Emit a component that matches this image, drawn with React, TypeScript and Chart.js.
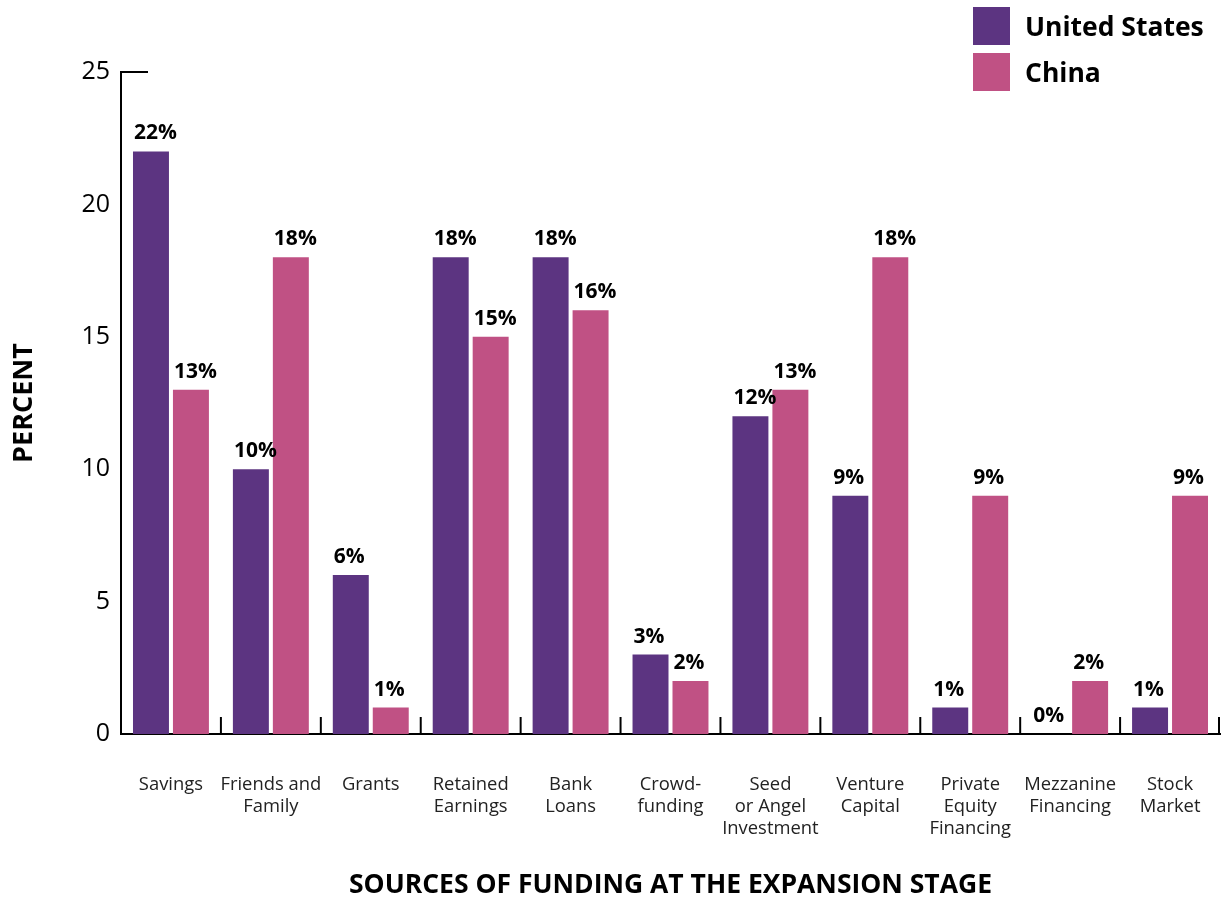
import React, { useEffect, useRef } from "react";
import { Chart, registerables } from "chart.js";

Chart.register(...registerables);

const categories: string[][] = [
  ["Savings"],
  ["Friends and", "Family"],
  ["Grants"],
  ["Retained", "Earnings"],
  ["Bank", "Loans"],
  ["Crowd-", "funding"],
  ["Seed", "or Angel", "Investment"],
  ["Venture", "Capital"],
  ["Private", "Equity", "Financing"],
  ["Mezzanine", "Financing"],
  ["Stock", "Market"],
];
const usValues = [22, 10, 6, 18, 18, 3, 12, 9, 1, 0, 1];
const chinaValues = [13, 18, 1, 15, 16, 2, 13, 18, 9, 2, 9];
const seriesNames = ["United States", "China"];
const seriesColors = ["#5C3481", "#C05184"];
const yTicks = [0, 5, 10, 15, 20, 25];

const FONT = "'Open Sans', 'DejaVu Sans', sans-serif";

const decorPlugin = {
  id: "decor",
  afterDatasetsDraw(chart: any) {
    const ctx = chart.ctx;
    const x = chart.scales.x;
    const y = chart.scales.y;
    const area = chart.chartArea;
    ctx.save();
    ctx.strokeStyle = "#000";
    ctx.lineWidth = 2;
    // category boundary ticks
    const n = categories.length;
    for (let i = 1; i <= n; i++) {
      let px: number;
      if (i < n) px = (x.getPixelForValue(i - 1) + x.getPixelForValue(i)) / 2;
      else px = area.right - 1;
      ctx.beginPath();
      ctx.moveTo(px, area.bottom);
      ctx.lineTo(px, area.bottom - 17);
      ctx.stroke();
    }
    // top tick of y axis
    const ty = y.getPixelForValue(yTicks[yTicks.length - 1]);
    ctx.beginPath();
    ctx.moveTo(area.left - 1, ty);
    ctx.lineTo(area.left + 27, ty);
    ctx.stroke();
    // value labels
    ctx.fillStyle = "#000";
    ctx.font = `bold 21px ${FONT}`;
    ctx.textAlign = "left";
    ctx.textBaseline = "alphabetic";
    chart.data.datasets.forEach((ds: any, di: number) => {
      const meta = chart.getDatasetMeta(di);
      meta.data.forEach((bar: any, i: number) => {
        const left = bar.x - bar.width / 2;
        ctx.fillText(`${ds.data[i]}%`, left + 1, bar.y - 12);
      });
    });
    ctx.restore();
  },
};

export default function App() {
  const ref = useRef<HTMLCanvasElement | null>(null);

  useEffect(() => {
    if (!ref.current) return;
    Chart.defaults.font.family = FONT;
    const chart = new Chart(ref.current, {
      type: "bar",
      data: {
        labels: categories,
        datasets: [
          {
            label: seriesNames[0],
            data: usValues,
            backgroundColor: seriesColors[0],
            categoryPercentage: 0.8,
            barPercentage: 0.9,
          },
          {
            label: seriesNames[1],
            data: chinaValues,
            backgroundColor: seriesColors[1],
            categoryPercentage: 0.8,
            barPercentage: 0.9,
          },
        ],
      },
      options: {
        animation: false,
        responsive: false,
        maintainAspectRatio: false,
        layout: { padding: { top: 72, right: 2, left: 0, bottom: 0 } },
        plugins: {
          legend: { display: false },
          tooltip: { enabled: false },
        },
        scales: {
          x: {
            grid: { display: false, drawTicks: true, tickLength: 40 },
            border: { display: true, color: "#000", width: 2 },
            ticks: {
              autoSkip: false,
              maxRotation: 0,
              minRotation: 0,
              padding: 0,
              color: "#222",
              font: { size: 18.4, lineHeight: "22px", family: FONT },
            },
            title: {
              display: true,
              text: "SOURCES OF FUNDING AT THE EXPANSION STAGE",
              color: "#000",
              font: { size: 26.5, weight: "bold", family: FONT },
              padding: { top: 0, bottom: 0 },
            },
            afterFit(scale: any) {
              scale.height = 167;
            },
          },
          y: {
            min: 0,
            max: 25,
            afterBuildTicks(scale: any) {
              scale.ticks = yTicks.map((v) => ({ value: v }));
            },
            grid: { display: false, drawTicks: false },
            border: { display: true, color: "#000", width: 2 },
            ticks: {
              padding: 11,
              color: "#000",
              font: { size: 25, family: FONT },
            },
            title: {
              display: true,
              text: "PERCENT",
              color: "#000",
              font: { size: 27, weight: "bold", family: FONT },
              padding: { top: 8, bottom: 0 },
            },
            afterFit(scale: any) {
              scale.width = 121;
            },
          },
        },
      },
      plugins: [decorPlugin],
    } as any);
    return () => chart.destroy();
  }, []);

  return (
    <div style={{ position: "fixed", left: 0, top: 0, width: 1222, height: 901, background: "#fff" }}>
      <canvas ref={ref} width={1222} height={901} style={{ position: "absolute", left: 0, top: 0, width: 1222, height: 901 }} />
      <div style={{ position: "absolute", left: 973, top: 7, fontFamily: FONT, fontWeight: 700, fontSize: 26.5, color: "#000" }}>
        {seriesNames.map((name, i) => (
          <div key={name} style={{ display: "flex", alignItems: "center", height: 38, marginBottom: 8 }}>
            <div style={{ width: 37, height: 38, background: seriesColors[i], marginRight: 15 }} />
            <span style={{ lineHeight: "38px", whiteSpace: "nowrap" }}>{name}</span>
          </div>
        ))}
      </div>
    </div>
  );
}
